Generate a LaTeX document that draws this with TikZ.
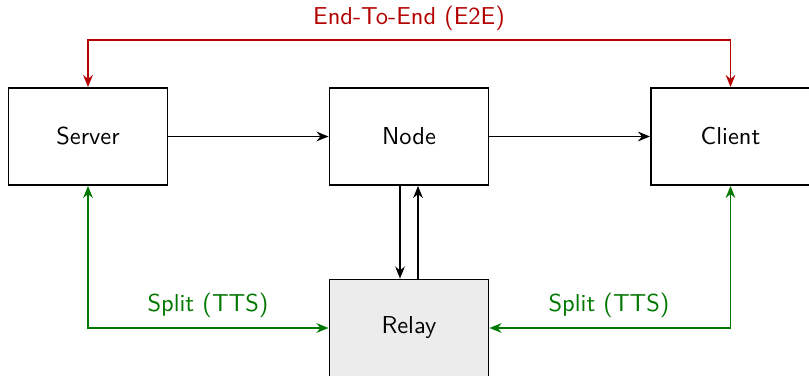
\documentclass[tikz,border=0pt]{standalone}
\usetikzlibrary{arrows.meta}
\definecolor{eered}{RGB}{180,0,0}
\definecolor{ttsgreen}{RGB}{0,120,0}
\begin{document}
\begin{tikzpicture}[x=0.4167pt,y=-0.4167pt,
  box/.style={draw,line width=0.8pt,minimum width=66.25pt,minimum height=40.4pt,inner sep=0pt,font=\sffamily\fontsize{10.2}{12}\selectfont},
  conn/.style={line width=0.8pt,-{Stealth[length=5pt,width=4pt]}},
  both/.style={line width=0.8pt,{Stealth[length=5pt,width=4pt]}-{Stealth[length=5pt,width=4pt]}},
  lbl/.style={font=\sffamily\fontsize{10.2}{12}\selectfont}]
\useasboundingbox (0,0) rectangle (809,376);
\node[box] (server) at (88,136.5) {Server};
\node[box] (node) at (409,136.5) {Node};
\node[box] (client) at (730.5,136.5) {Client};
\node[box,fill=gray!15] (relay) at (409,328) {Relay};
\coordinate (top1) at (88,40);
\coordinate (top2) at (730.5,40);
\coordinate (bot1) at (88,328);
\coordinate (bot2) at (730.5,328);
\draw[conn] (server) -- (node);
\draw[conn] (node) -- (client);
\draw[conn] ([xshift=-9*0.4167pt]node.south) -- ([xshift=-9*0.4167pt]relay.north);
\draw[conn] ([xshift=9*0.4167pt]relay.north) -- ([xshift=9*0.4167pt]node.south);
\draw[both,eered] (server.north) -- (top1) -- (top2) -- (client.north);
\node[lbl,text=eered] (e2e) at (409,18) {End-To-End (E2E)};
\draw[both,ttsgreen] (server.south) -- (bot1) -- (relay.west);
\draw[both,ttsgreen] (client.south) -- (bot2) -- (relay.east);
\node[lbl,text=ttsgreen] (tts1) at (208,305) {Split (TTS)};
\node[lbl,text=ttsgreen] (tts2) at (609,305) {Split (TTS)};
\end{tikzpicture}
\end{document}
